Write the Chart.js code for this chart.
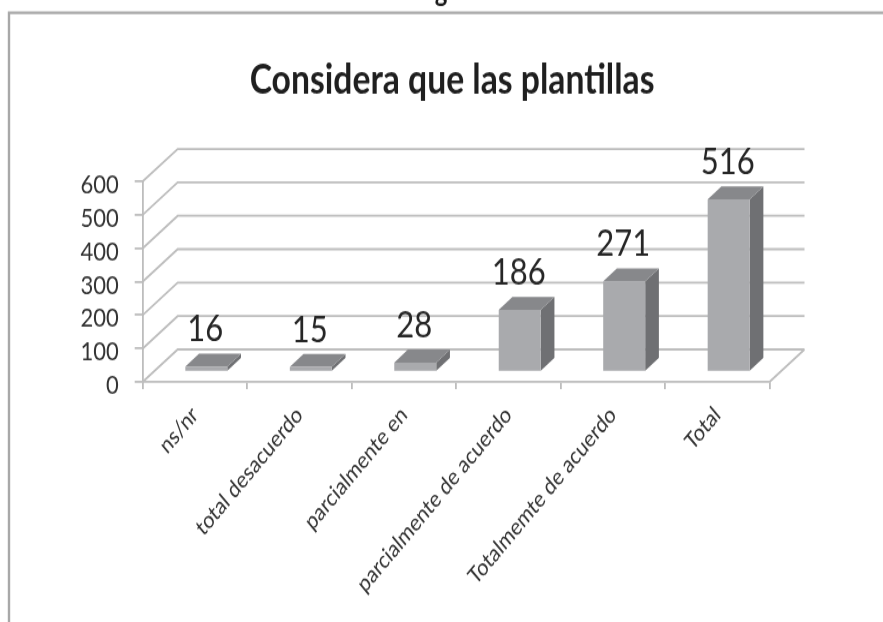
<!DOCTYPE html>
<html>
<head>
<meta charset="utf-8">
<style>
html,body{margin:0;padding:0;background:#fff;width:883px;height:622px}
html{overflow:hidden}
#c{display:block;width:883px;height:518px;transform-origin:0 0;transform:scaleY(1.2008)}
</style>
<script src="https://cdn.jsdelivr.net/npm/chart.js@4"></script>
</head>
<body>
<canvas id="c" width="883" height="518"></canvas>
<script>
const categories = ["ns/nr","total desacuerdo","parcialmente en","parcialmente de acuerdo","Totalmemte de acuerdo","Total"];
const values = [16,15,28,186,271,516];
const yTicks = [0,100,200,300,400,500,600];
const titleText = "Considera que las plantillas";
const FONT = "Lato, sans-serif";
const GRID = "#bdbdbd";
const FRONT = "#a9aaad", SIDE = "#6f7073", TOP = "#87888b";
const WALL = {dx:35, dy:-27};
const BAR = {dx:11.4, dy:-8.3, sx:13.7, sy:-10.8};

const plugin3d = {
  id:"plugin3d",
  afterLayout(chart){ chart.titleBlock.left -= 4; chart.titleBlock.right -= 4; },
  beforeDraw(chart){
    const c = chart.ctx;
    c.save();
    c.strokeStyle = "#a8a8a8"; c.lineWidth = 2.4;
    c.beginPath(); c.moveTo(9,518); c.lineTo(9,10.6); c.lineTo(883,10.6); c.stroke();
    c.fillStyle = "#1a1a1a"; c.font = "bold 24px "+FONT;
    c.textAlign = "center"; c.textBaseline = "alphabetic";
    c.fillText("g",441,0.5);
    c.restore();
    chart.scales.y.getLabelItems(chart.chartArea).forEach(it=>{
      if(!it.shifted){ it.textOffset += 3; it.shifted = true; }
    });
  },
  beforeDatasetsDraw(chart){
    const c = chart.ctx, y = chart.scales.y, a = chart.chartArea;
    c.save();
    c.strokeStyle = GRID; c.lineWidth = 1.8;
    c.beginPath();
    yTicks.forEach(t=>{
      const py = y.getPixelForValue(t);
      c.moveTo(a.left,py); c.lineTo(a.left+WALL.dx,py+WALL.dy); c.lineTo(a.right+WALL.dx,py+WALL.dy);
    });
    const p0 = y.getPixelForValue(0);
    c.moveTo(a.right,p0); c.lineTo(a.right+WALL.dx,p0+WALL.dy);
    c.stroke();
    c.restore();
  },
  beforeDatasetDraw(chart,args){
    const c = chart.ctx;
    c.save();
    c.translate(BAR.dx,BAR.dy);
    args.meta.data.forEach(b=>{
      const p = b.getProps(["x","y","base","width"],true);
      const l = p.x-p.width/2, r = p.x+p.width/2;
      c.fillStyle = SIDE;
      c.beginPath(); c.moveTo(r,p.y); c.lineTo(r+BAR.sx,p.y+BAR.sy); c.lineTo(r+BAR.sx,p.base+BAR.sy); c.lineTo(r,p.base); c.closePath(); c.fill();
      c.fillStyle = TOP;
      c.beginPath(); c.moveTo(l,p.y); c.lineTo(l+BAR.sx,p.y+BAR.sy); c.lineTo(r+BAR.sx,p.y+BAR.sy); c.lineTo(r,p.y); c.closePath(); c.fill();
    });
  },
  afterDatasetDraw(chart){ chart.ctx.restore(); },
  afterDatasetsDraw(chart){
    const c = chart.ctx, meta = chart.getDatasetMeta(0);
    c.save();
    c.fillStyle = "#262626"; c.font = "31px "+FONT;
    c.textAlign = "center"; c.textBaseline = "alphabetic";
    meta.data.forEach((b,i)=>{
      c.fillText(String(values[i]), b.x+BAR.dx-1, b.y+BAR.dy+BAR.sy-10);
    });
    c.restore();
  }
};

new Chart(document.getElementById("c"),{
  type:"bar",
  data:{labels:categories,datasets:[{data:values,backgroundColor:FRONT,borderWidth:0,barPercentage:0.402,categoryPercentage:1,clip:false}]},
  plugins:[plugin3d],
  options:{
    responsive:false,animation:false,
    layout:{padding:{left:0,right:113.5,top:0,bottom:0}},
    plugins:{
      legend:{display:false},tooltip:{enabled:false},
      title:{display:true,text:titleText,fullSize:false,color:"#1f1f1f",
        font:{family:FONT,size:33.7,weight:"bold",lineHeight:1.2},
        padding:{top:47,bottom:63.6}}
    },
    scales:{
      x:{
        afterFit(s){s.height=200;},
        grid:{drawOnChartArea:false,drawTicks:true,tickLength:6,color:GRID,lineWidth:1.8},
        border:{color:GRID,width:1.8},
        ticks:{color:"#333",font:{family:FONT,size:19.4},maxRotation:45,minRotation:45,padding:10,autoSkip:false}
      },
      y:{
        min:0,max:600,
        afterFit(s){s.width=142.7;},
        afterBuildTicks(s){s.ticks=yTicks.map(v=>({value:v}));},
        grid:{drawOnChartArea:false,drawTicks:true,tickLength:8,color:GRID,lineWidth:1.8},
        border:{color:GRID,width:1.8},
        ticks:{color:"#333",font:{family:FONT,size:22},padding:16,autoSkip:false}
      }
    }
  }
});
</script>
</body>
</html>
